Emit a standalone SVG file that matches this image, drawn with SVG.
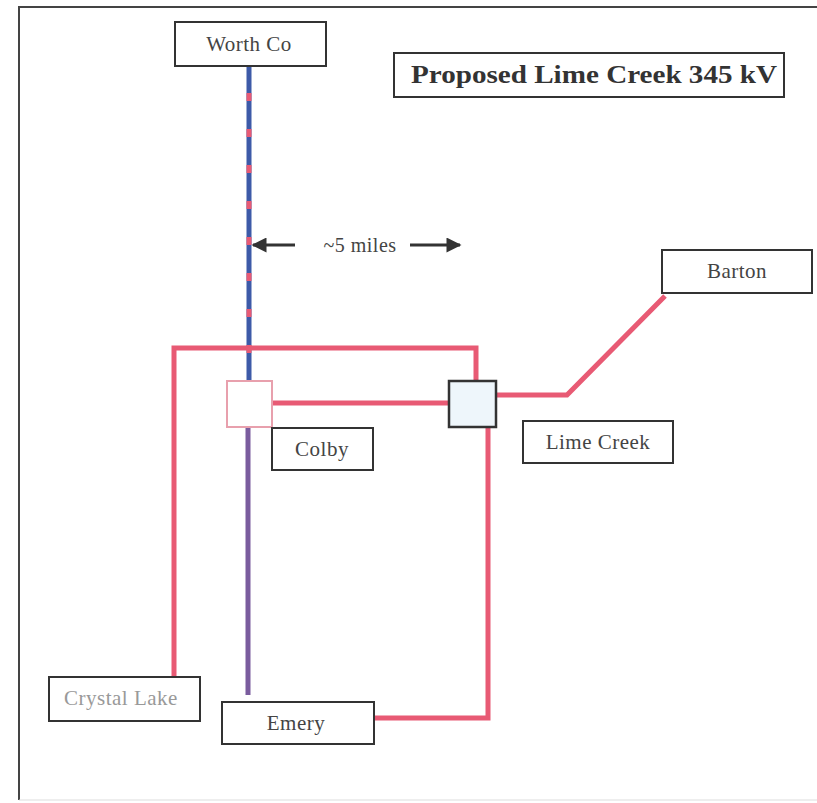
<svg xmlns="http://www.w3.org/2000/svg" width="817" height="803" viewBox="0 0 817 803">
<defs>
<style>
.box{fill:#fff;stroke:#333;stroke-width:2}
.lbl{font-family:"Liberation Serif","Times New Roman",serif;font-size:21px;fill:#444;text-anchor:middle;letter-spacing:0.5px}
.red{fill:none;stroke:#e85a74;stroke-width:5;stroke-linejoin:miter}
</style>
<marker id="ah" viewBox="0 0 10 10" refX="9" refY="5" markerWidth="5.5" markerHeight="5" orient="auto"><path d="M0,0 L10,5 L0,10 z" fill="#333"/></marker>
</defs>
<rect x="0" y="0" width="817" height="803" fill="#fff"/>
<path d="M19,800 L19,7 L817,7" fill="none" stroke="#444" stroke-width="2"/>
<line x1="19" y1="800" x2="817" y2="800" stroke="#ddd" stroke-width="1"/>
<g id="connectors">
<line x1="249" y1="67" x2="249" y2="381" stroke="#3d5aa8" stroke-width="5"/>
<line x1="249" y1="67" x2="249" y2="381" stroke="#e85a74" stroke-width="5" stroke-dasharray="8 28" stroke-dashoffset="-26"/>
<path class="red" d="M174,677 L174,348 L476,348 L476,381"/>
<line class="red" x1="272" y1="403" x2="449" y2="403"/>
<path class="red" d="M488,427 L488,718 L374,718"/>
<path class="red" d="M496,395 L567,395 L665,296"/>
<line x1="248" y1="427" x2="248" y2="695" stroke="#7a5c9e" stroke-width="5"/>
<line x1="295" y1="245" x2="253" y2="245" stroke="#333" stroke-width="3" marker-end="url(#ah)"/>
<line x1="410" y1="245" x2="460" y2="245" stroke="#333" stroke-width="3" marker-end="url(#ah)"/>
<text x="360" y="252" class="lbl" style="font-size:20px">~5 miles</text>
</g>
<g id="title"><rect class="box" x="394" y="53" width="390" height="44" stroke="#555"/><text x="594" y="83" class="lbl" style="font-size:26px;font-weight:bold;fill:#333;letter-spacing:0" textLength="366" lengthAdjust="spacingAndGlyphs">Proposed Lime Creek 345 kV</text></g>
<g id="worth-co"><rect class="box" x="175" y="22" width="151" height="44"/><text x="249" y="51" class="lbl">Worth Co</text></g>
<g id="colby-sub"><rect x="227" y="381" width="45" height="46" fill="#fff" stroke="#e8a0ad" stroke-width="2"/></g>
<g id="limecreek-sub"><rect x="449" y="381" width="47" height="46" fill="#eef6fb" stroke="#333" stroke-width="2.5"/></g>
<g id="colby"><rect class="box" x="272" y="428" width="101" height="42"/><text x="322" y="456" class="lbl">Colby</text></g>
<g id="lime-creek"><rect class="box" x="523" y="421" width="150" height="42"/><text x="598" y="449" class="lbl">Lime Creek</text></g>
<g id="barton"><rect class="box" x="662" y="250" width="150" height="43"/><text x="737" y="278" class="lbl">Barton</text></g>
<g id="crystal-lake"><rect class="box" x="49" y="677" width="151" height="44" stroke="#888"/><text x="121" y="705" class="lbl" style="fill:#999">Crystal Lake</text></g>
<g id="emery"><rect class="box" x="222" y="702" width="152" height="42"/><text x="296" y="730" class="lbl">Emery</text></g>
</svg>
